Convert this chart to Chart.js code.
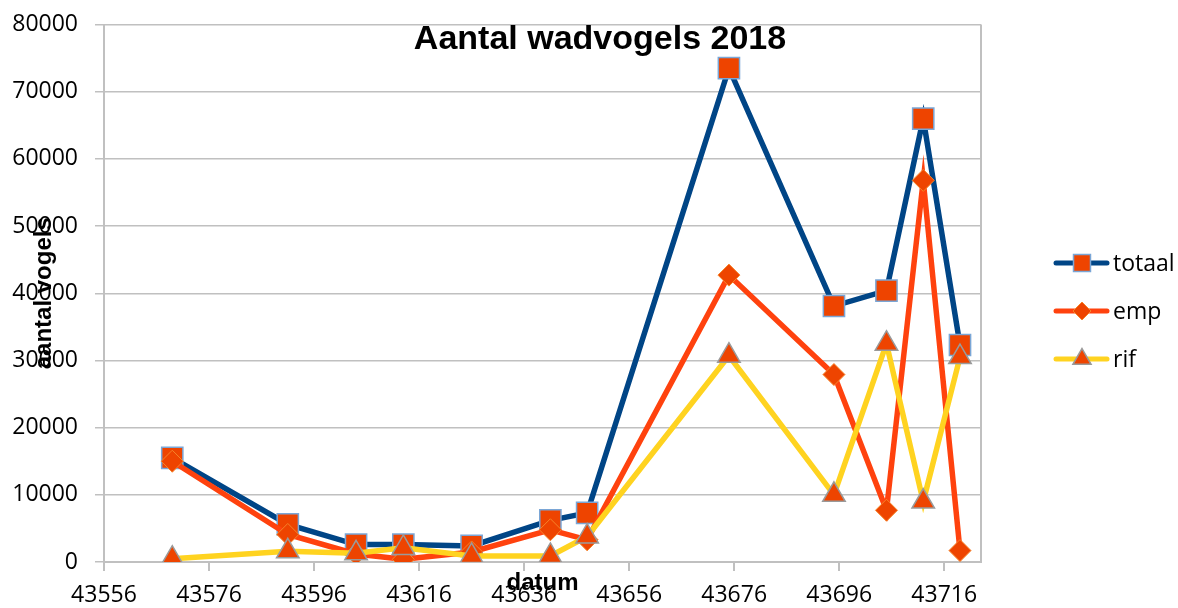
<!DOCTYPE html>
<html><head><meta charset="utf-8">
<script src="https://cdn.jsdelivr.net/npm/chart.js@4.4.1/dist/chart.umd.min.js"></script>
<style>html,body{margin:0;padding:0;background:#fff}#wrap{width:1178px;height:608px;position:relative}</style>
</head><body><div id="wrap"><canvas id="c" width="1178" height="608"></canvas></div>
<script>
const dates  = [43569, 43591, 43604, 43613, 43626, 43641, 43648, 43675, 43695, 43705, 43712, 43719];
const totaal = [15500, 5600, 2600, 2600, 2400, 6200, 7300, 73500, 38100, 40400, 66000, 32300];
const emp    = [15000, 4100, 1200, 400, 1500, 4800, 3300, 42700, 27900, 7700, 56800, 1700];
const rif    = [500, 1600, 1300, 2100, 900, 900, 3800, 30700, 10000, 32500, 9000, 30500];
const xTicks = [43556, 43576, 43596, 43616, 43636, 43656, 43676, 43696, 43716];
const yTicks = [0, 10000, 20000, 30000, 40000, 50000, 60000, 70000, 80000];
const seriesNames = ['totaal', 'emp', 'rif'];
const titleText = 'Aantal wadvogels 2018';
const xTitle = 'datum';
const yTitle = 'aantal vogels';

const MARK = '#ee4400';
const styles = [
  {line: '#004586', ps: 'rect',    r: 15, lr: 12,  bc: '#7aa6d6', bw: 1.5},
  {line: '#ff420e', ps: 'rectRot', r: 11, lr: 9,   bc: '#f5842a', bw: 1},
  {line: '#ffd320', ps: 'triangle',r: 13, lr: 10.5,bc: '#9a9a9a', bw: 1.5}
];
const values = [totaal, emp, rif];
const GRID = '#c0c0c0';
const TICKFONT = {family: "'Open Sans'", size: 23};

const datasets = values.map((vals, i) => ({
  label: seriesNames[i],
  data: dates.map((d, k) => ({x: d, y: vals[k]})),
  borderColor: styles[i].line,
  backgroundColor: MARK,
  borderWidth: 5.5,
  tension: 0,
  pointStyle: styles[i].ps,
  pointRadius: styles[i].r,
  pointHoverRadius: styles[i].r,
  pointBackgroundColor: MARK,
  pointBorderColor: styles[i].bc,
  pointBorderWidth: styles[i].bw,
  order: 2 - i
}));

function drawMarker(ctx, st, r, x, y) {
  ctx.fillStyle = MARK; ctx.strokeStyle = st.bc; ctx.lineWidth = st.bw;
  if (Chart.helpers && Chart.helpers.drawPoint) {
    Chart.helpers.drawPoint(ctx, {pointStyle: st.ps, radius: r, borderWidth: st.bw, rotation: 0}, x, y);
  }
}

const decor = {
  id: 'decor',
  beforeDatasetsDraw(chart) {
    const ctx = chart.ctx, a = chart.chartArea;
    ctx.save();
    ctx.strokeStyle = GRID; ctx.lineWidth = 2;
    ctx.beginPath(); ctx.moveTo(a.right, a.top); ctx.lineTo(a.right, a.bottom); ctx.stroke();
    ctx.restore();
  },
  afterDraw(chart) {
    const ctx = chart.ctx, a = chart.chartArea;
    ctx.save();
    ctx.fillStyle = '#000';
    ctx.font = "bold 34px 'Liberation Sans', Arial, sans-serif";
    ctx.textAlign = 'center'; ctx.textBaseline = 'alphabetic';
    ctx.fillText(titleText, 600, 49);
    ctx.font = "bold 24px 'Liberation Sans', Arial, sans-serif";
    ctx.fillText(xTitle, (a.left + a.right) / 2, 590);
    ctx.save();
    ctx.translate(51, (a.top + a.bottom) / 2);
    ctx.rotate(-Math.PI / 2);
    ctx.fillText(yTitle, 0, 0);
    ctx.restore();
    ctx.font = "23px 'Open Sans', sans-serif";
    ctx.textAlign = 'left'; ctx.textBaseline = 'middle';
    seriesNames.forEach((name, i) => {
      const y = 263 + i * 48, st = styles[i];
      ctx.strokeStyle = st.line; ctx.lineWidth = 5; ctx.lineCap = 'round';
      ctx.beginPath(); ctx.moveTo(1056, y); ctx.lineTo(1107, y); ctx.stroke();
      ctx.lineCap = 'butt';
      drawMarker(ctx, st, st.lr, 1082, y);
      ctx.fillStyle = '#000';
      ctx.fillText(name, 1113, y + 1);
    });
    ctx.restore();
  }
};

function noPad(s) { s.paddingTop = 0; s.paddingBottom = 0; s.paddingLeft = 0; s.paddingRight = 0; }

new Chart(document.getElementById('c'), {
  type: 'line',
  data: {datasets},
  options: {
    responsive: false,
    animation: false,
    devicePixelRatio: 1,
    layout: {padding: {left: 0, right: 197, top: 24.5, bottom: 0}},
    plugins: {legend: {display: false}, title: {display: false}, tooltip: {enabled: false}},
    scales: {
      x: {
        type: 'linear', min: 43556, max: 43723,
        afterFit(s) { s.height = 46; noPad(s); },
        afterBuildTicks(s) { s.ticks = xTicks.map(v => ({value: v})); },
        grid: {drawOnChartArea: false, drawTicks: true, tickLength: 9, color: GRID, lineWidth: 2},
        border: {display: true, color: GRID, width: 2},
        ticks: {font: TICKFONT, color: '#000', padding: 11, maxRotation: 0, autoSkip: false, callback: v => String(v)}
      },
      y: {
        type: 'linear', min: 0, max: 80000,
        afterFit(s) { s.width = 104; noPad(s); },
        afterBuildTicks(s) { s.ticks = yTicks.map(v => ({value: v})); },
        grid: {drawOnChartArea: true, drawTicks: true, tickLength: 9, color: GRID, lineWidth: 1.5},
        border: {display: true, color: GRID, width: 2},
        ticks: {font: TICKFONT, color: '#000', padding: 17, autoSkip: false, callback: v => String(v)}
      }
    }
  },
  plugins: [decor]
});
</script>
</body></html>
